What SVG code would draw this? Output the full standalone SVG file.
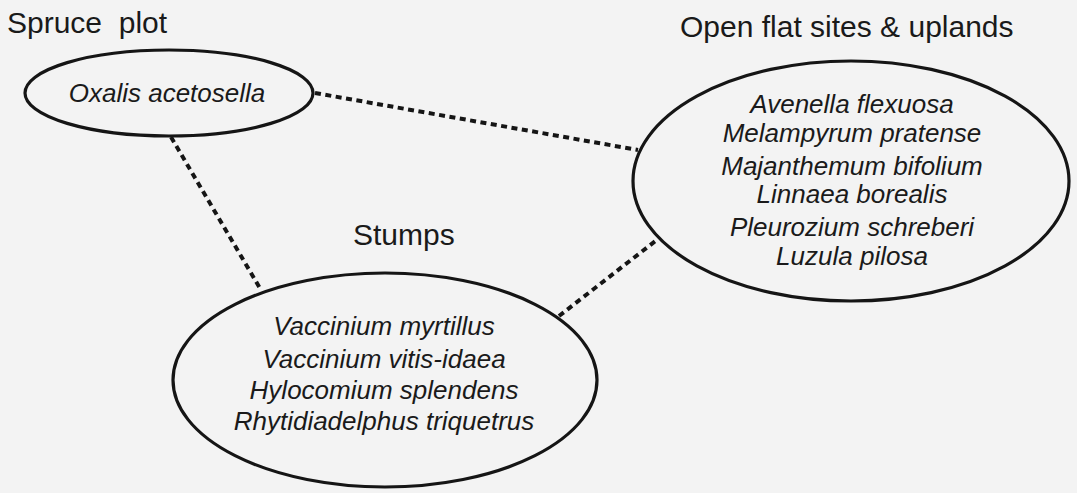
<svg xmlns="http://www.w3.org/2000/svg" width="1077" height="493" viewBox="0 0 1077 493">
<style>
.bg{fill:#f3f3f3}
.node{fill:none;stroke:#151515;stroke-width:3.2}
.conn{fill:none;stroke:#151515;stroke-width:4;stroke-dasharray:6 4.5}
.lbl{font-family:"Liberation Sans",Arial,sans-serif;font-size:30px;fill:#1a1a1a;white-space:pre}
.sp{font-family:"Liberation Sans",Arial,sans-serif;font-size:26px;font-style:italic;fill:#1a1a1a;text-anchor:middle}
</style>
<rect class="bg" x="0" y="0" width="1077" height="493"/>
<g id="connectors">
<line class="conn" x1="315" y1="93" x2="638" y2="150"/>
<line class="conn" x1="171" y1="137" x2="261" y2="290"/>
<line class="conn" x1="559" y1="316" x2="658" y2="239"/>
</g>
<g id="spruce">
<text class="lbl" x="7" y="33">Spruce  plot</text>
<ellipse class="node" cx="169" cy="93" rx="144" ry="43"/>
<text class="sp" x="167" y="102">Oxalis acetosella</text>
</g>
<g id="open">
<text class="lbl" x="680" y="37">Open flat sites &amp; uplands</text>
<ellipse class="node" cx="851" cy="181" rx="218" ry="120"/>
<text class="sp" x="852" y="113">Avenella flexuosa</text>
<text class="sp" x="852" y="142">Melampyrum pratense</text>
<text class="sp" x="852" y="175">Majanthemum bifolium</text>
<text class="sp" x="852" y="203">Linnaea borealis</text>
<text class="sp" x="852" y="236">Pleurozium schreberi</text>
<text class="sp" x="852" y="265">Luzula pilosa</text>
</g>
<g id="stumps">
<text class="lbl" x="353" y="245">Stumps</text>
<ellipse class="node" cx="385" cy="380" rx="212" ry="107"/>
<text class="sp" x="384" y="335">Vaccinium myrtillus</text>
<text class="sp" x="384" y="368">Vaccinium vitis-idaea</text>
<text class="sp" x="384" y="399">Hylocomium splendens</text>
<text class="sp" x="384" y="430">Rhytidiadelphus triquetrus</text>
</g>
</svg>
